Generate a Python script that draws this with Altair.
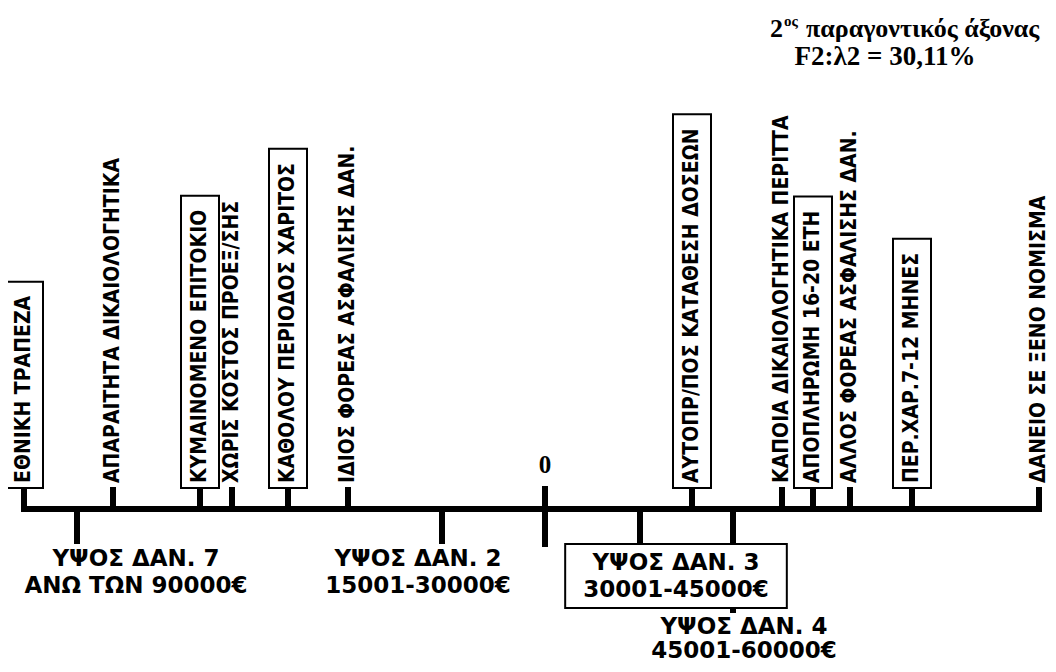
import altair as alt
import pandas as pd

# ---------------- data ----------------
above_labels = [
    "ΕΘΝΙΚΗ ΤΡΑΠΕΖΑ",
    "ΑΠΑΡΑΙΤΗΤΑ ΔΙΚΑΙΟΛΟΓΗΤΙΚΑ",
    "ΚΥΜΑΙΝΟΜΕΝΟ ΕΠΙΤΟΚΙΟ",
    "ΧΩΡΙΣ ΚΟΣΤΟΣ ΠΡΟΕΞ/ΣΗΣ",
    "ΚΑΘΟΛΟΥ ΠΕΡΙΟΔΟΣ ΧΑΡΙΤΟΣ",
    "ΙΔΙΟΣ ΦΟΡΕΑΣ ΑΣΦΑΛΙΣΗΣ ΔΑΝ.",
    "ΑΥΤΟΠΡ/ΠΟΣ ΚΑΤΑΘΕΣΗ ΔΟΣΕΩΝ",
    "ΚΑΠΟΙΑ ΔΙΚΑΙΟΛΟΓΗΤΙΚΑ ΠΕΡΙΤΤΑ",
    "ΑΠΟΠΛΗΡΩΜΗ 16-20 ΕΤΗ",
    "ΑΛΛΟΣ ΦΟΡΕΑΣ ΑΣΦΑΛΙΣΗΣ ΔΑΝ.",
    "ΠΕΡ.ΧΑΡ.7-12 ΜΗΝΕΣ",
    "ΔΑΝΕΙΟ ΣΕ ΞΕΝΟ ΝΟΜΙΣΜΑ",
]
above_coords = [-1.042, -0.864, -0.690, -0.626, -0.514, -0.394,
                0.294, 0.474, 0.536, 0.610, 0.734, 0.988]
above_boxed = [True, False, True, False, True, False,
               True, False, True, False, True, False]

below_line1 = ["ΥΨΟΣ ΔΑΝ. 7", "ΥΨΟΣ ΔΑΝ. 2", "ΥΨΟΣ ΔΑΝ. 3", "ΥΨΟΣ ΔΑΝ. 4"]
below_line2 = ["ΑΝΩ ΤΩΝ 90000€", "15001-30000€", "30001-45000€", "45001-60000€"]
below_coords = [-0.936, -0.206, 0.190, 0.376]
below_boxed = [False, False, True, False]

origin_label = "0"
title_num = "2"
title_sup = "ος"
title_rest = "παραγοντικός άξονας"
title_line2 = "F2:λ2 = 30,11%"

# ---------------- layout / style ----------------
W, H = 1040, 656
ZERO_PX = 537
PX_PER_UNIT = 500.0
X_DOMAIN = [-ZERO_PX / PX_PER_UNIT, (W - ZERO_PX) / PX_PER_UNIT]
AXIS_Y = 501
UP_TICK_TOP = 479
TEXT_START = 475
UP_FONT = 21
UP_FAMILY = "DejaVu Sans Condensed"
LOW_FONT = 23
LOW_FAMILY = "DejaVu Sans"
LOW_LINE_H = [27, 24]
below_shift_px = [59, -24, 36, 11]
below_level = [0, 0, 0, 1]
LEVEL_TICK_END = [536, 605]
LEVEL_TEXT_GAP = [4, 3]
SERIF = "Liberation Serif, Times New Roman, serif"

DJ = {
    "Α": .774, "Β": .762, "Γ": .637, "Δ": .774, "Ε": .683, "Ζ": .725, "Η": .837,
    "Θ": .85, "Ι": .372, "Κ": .775, "Λ": .774, "Μ": .995, "Ν": .837, "Ξ": .683,
    "Ο": .85, "Π": .837, "Ρ": .733, "Σ": .683, "Τ": .682, "Υ": .724, "Φ": .85,
    "Χ": .774, "Ψ": .85, "Ω": .85, " ": .348, ".": .38, "/": .365, "-": .415,
}


def cond_width(s, size):
    w = 0.0
    for ch in s:
        if ch.isdigit():
            w += 0.696
        else:
            w += DJ.get(ch, 0.77)
    return w * 0.9 * size


def wide_width(s, size):
    w = 0.0
    for ch in s:
        if ch.isdigit() or ch == "€":
            w += 0.696
        else:
            w += DJ.get(ch, 0.77)
    return w * size


x_enc = lambda f: alt.X(f, type="quantitative", scale=alt.Scale(domain=X_DOMAIN), axis=None)

up = pd.DataFrame({"label": above_labels, "coord": above_coords, "boxed": above_boxed})
up["tlen"] = [cond_width(s, UP_FONT) for s in above_labels]
up["bx"] = up["coord"] - 19 / PX_PER_UNIT
up["bx2"] = up["coord"] + 19 / PX_PER_UNIT
up["by"] = UP_TICK_TOP + 1
up["by2"] = TEXT_START - up["tlen"] - 14
up_box = up[up["boxed"]]

low = pd.DataFrame({"l1": below_line1, "l2": below_line2, "coord": below_coords,
                    "boxed": below_boxed, "level": below_level})
low["text"] = low["l1"] + "\n" + low["l2"]
low["tick_end"] = [LEVEL_TICK_END[l] for l in below_level]
low["center"] = [c + s / PX_PER_UNIT for c, s in zip(below_coords, below_shift_px)]
low["ty"] = [t + (8 if b else LEVEL_TEXT_GAP[l])
             for t, b, l in zip(low["tick_end"], below_boxed, below_level)]
low["bw"] = [max(wide_width(a, LOW_FONT), wide_width(b, LOW_FONT)) + 36
             for a, b in zip(below_line1, below_line2)]
low["bx"] = low["center"] - low["bw"] / 2 / PX_PER_UNIT
low["bx2"] = low["center"] + low["bw"] / 2 / PX_PER_UNIT
low["by"] = low["tick_end"]
low["by2"] = low["tick_end"] + 64
low["a"] = AXIS_Y
low_box = low[low["boxed"]]

all_coords = above_coords + below_coords
axis_df = pd.DataFrame({"x0": [min(all_coords)], "x1": [max(all_coords)]})
zero_df = pd.DataFrame({"coord": [0.0], "label": [origin_label]})
one = pd.DataFrame({"k": [0]})

axis_line = alt.Chart(axis_df).mark_rule(strokeWidth=6, color="black", strokeCap="square").encode(
    x=x_enc("x0"), x2="x1", y=alt.value(AXIS_Y))

up_ticks = alt.Chart(up).mark_rule(strokeWidth=6, color="black").encode(
    x=x_enc("coord"), y=alt.value(UP_TICK_TOP), y2=alt.value(AXIS_Y))

low_ticks = alt.Chart(low).mark_rule(strokeWidth=6, color="black").encode(
    x=x_enc("coord"), y=alt.Y("a:Q", scale=None), y2="tick_end:Q")

zero_tick = alt.Chart(zero_df).mark_rule(strokeWidth=6, color="black").encode(
    x=x_enc("coord"), y=alt.value(UP_TICK_TOP - 1), y2=alt.value(539))

up_boxes = alt.Chart(up_box).mark_rect(fill="white", stroke="black", strokeWidth=2).encode(
    x=x_enc("bx"), x2="bx2", y=alt.Y("by:Q", scale=None), y2="by2:Q")

low_boxes = alt.Chart(low_box).mark_rect(fill="white", stroke="black", strokeWidth=2).encode(
    x=x_enc("bx"), x2="bx2", y=alt.Y("by:Q", scale=None), y2="by2:Q")

up_text = alt.Chart(up).mark_text(
    angle=270, align="left", baseline="middle", font=UP_FAMILY, fontSize=UP_FONT,
    fontWeight="bold", color="black").encode(
    x=x_enc("coord"), y=alt.value(TEXT_START), text="label:N")

low_texts = []
for lvl in (0, 1):
    sub = low[low["level"] == lvl]
    low_texts.append(alt.Chart(sub).mark_text(
        align="center", baseline="top", font=LOW_FAMILY, fontSize=LOW_FONT, fontWeight="bold",
        color="black", lineBreak="\n", lineHeight=LOW_LINE_H[lvl]).encode(
        x=x_enc("center"), y=alt.Y("ty:Q", scale=None), text="text:N"))

zero_text = alt.Chart(zero_df).mark_text(
    align="center", baseline="alphabetic", font=SERIF, fontSize=25, fontWeight="bold",
    color="black").encode(x=x_enc("coord"), y=alt.value(465), text="label:N")

t_num = alt.Chart(one).mark_text(align="right", baseline="alphabetic", font=SERIF,
                                 fontSize=26, fontWeight="bold", color="black",
                                 text=title_num).encode(x=alt.value(775), y=alt.value(29))
t_sup = alt.Chart(one).mark_text(align="left", baseline="alphabetic", font=SERIF,
                                 fontSize=15, fontWeight="bold", color="black",
                                 text=title_sup).encode(x=alt.value(776), y=alt.value(18))
t_rest = alt.Chart(one).mark_text(align="left", baseline="alphabetic", font=SERIF,
                                  fontSize=26, fontWeight="bold", color="black",
                                  text=title_rest).encode(x=alt.value(798), y=alt.value(29))
t_l2 = alt.Chart(one).mark_text(align="center", baseline="alphabetic", font=SERIF,
                                fontSize=27, fontWeight="bold", color="black",
                                text=title_line2).encode(x=alt.value(877), y=alt.value(57))

chart = alt.layer(
    axis_line, up_ticks, low_ticks, zero_tick, up_boxes, low_boxes,
    up_text, *low_texts, zero_text, t_num, t_sup, t_rest, t_l2
).properties(
    width=W, height=H, autosize=alt.AutoSizeParams(type="none"), padding=0,
    background="white"
).configure_view(stroke=None)

chart.save("out.html", embed_options={"renderer": "svg", "actions": False})
